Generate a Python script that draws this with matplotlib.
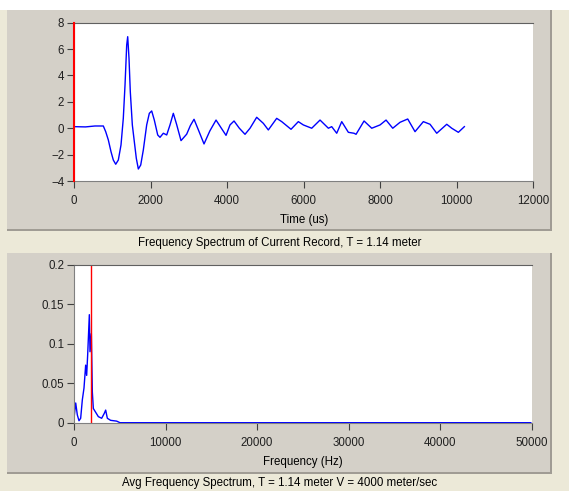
import matplotlib
matplotlib.use("Agg")
import matplotlib.pyplot as plt
from matplotlib.patches import Rectangle

plt.rcParams['font.family'] = ['Liberation Sans', 'DejaVu Sans']
plt.rcParams['font.size'] = 8.3

# Registro de tiempo (us) y amplitud
time_us = [0, 300, 549, 766, 828, 897, 967, 1027, 1090, 1158,
           1228, 1288, 1333, 1377, 1403, 1437, 1471, 1524, 1576, 1628,
           1681, 1743, 1811, 1899, 1968, 2030, 2098, 2187, 2247, 2334,
           2422, 2508, 2595, 2680, 2796, 2944, 3040, 3136, 3260, 3397,
           3550, 3711, 3850, 3972, 4076, 4181, 4320, 4468, 4599, 4773,
           4947, 5077, 5296, 5427, 5670, 5861, 5992, 6211, 6428, 6646,
           6733, 6864, 6995, 7168, 7316, 7369, 7578, 7779, 7996, 8153,
           8328, 8518, 8719, 8910, 9127, 9302, 9477, 9739, 9869, 10042,
           10199]
amplitude = [0.12, 0.1, 0.17, 0.17, -0.26, -0.89, -1.78, -2.41, -2.73, -2.41,
             -1.27, 0.75, 3.28, 6.31, 6.94, 5.30, 2.77, 0.25, -1.02, -2.28,
             -3.09, -2.79, -1.65, 0.25, 1.13, 1.31, 0.62, -0.51, -0.69, -0.38,
             -0.51, 0.25, 1.13, 0.3, -0.94, -0.45, 0.2, 0.68, -0.2, -1.19,
             -0.2, 0.62, 0.0, -0.54, 0.25, 0.55, 0.0, -0.46, 0.0, 0.83,
             0.37, -0.13, 0.75, 0.5, -0.08, 0.5, 0.25, 0.0, 0.62, 0.0,
             0.12, -0.38, 0.5, -0.31, -0.38, -0.46, 0.55, 0.0, 0.25, 0.62,
             0.0, 0.45, 0.70, -0.26, 0.5, 0.30, -0.38, 0.30, 0.0, -0.31,
             0.12]

# Espectro de frecuencia
freq_hz = [0, 186, 364, 546, 728, 910, 1092, 1274, 1383, 1493,
           1675, 1748, 1894, 2003, 2112, 2658, 3022, 3314, 3459, 3642,
           4000, 4660, 5025, 49900]
spectrum = [0.0056, 0.025, 0.0098, 0.0025, 0.0056, 0.029, 0.044, 0.073, 0.060, 0.086,
            0.137, 0.090, 0.113, 0.039, 0.018, 0.0077, 0.0056, 0.012, 0.016, 0.0056,
            0.003, 0.002, 0.0, 0.0]

marker_time = 0
marker_freq = 1820

W, H = 569, 491
fig = plt.figure(figsize=(W / 100, H / 100), dpi=100, facecolor='#ECE9D8')

def px_rect(x0, y0, x1, y1, color):
    fig.patches.append(Rectangle((x0 / W, 1 - y1 / H), (x1 - x0) / W, (y1 - y0) / H,
                                 transform=fig.transFigure, facecolor=color,
                                 edgecolor='none', zorder=-5))

# fondo tipo ventana
px_rect(0, 0, W, 10, 'white')
for top, bot in [(10, 231), (252.7, 474)]:
    px_rect(7, top, 552, bot, '#A09C94')
    px_rect(7, top, 550, bot - 2, '#D4D0C8')

ax1 = fig.add_axes([74 / W, 1 - 181 / H, (533.3 - 74) / W, (181 - 22.7) / H])
ax2 = fig.add_axes([74 / W, 1 - 422.7 / H, (531.7 - 74) / W, (422.7 - 265) / H])

ax1.plot(time_us, amplitude, color='#0000FF', lw=1.0)
ax1.axvline(marker_time, color='#FF0000', lw=1.5, clip_on=False, zorder=5)
ax1.set_xlim(0, 12000)
ax1.set_ylim(-4, 8)
ax1.set_xticks(range(0, 12001, 2000))
ax1.set_yticks(range(-4, 9, 2))
ax1.set_xlabel('Time (us)', labelpad=5)

ax2.plot(freq_hz, spectrum, color='#0000FF', lw=1.0)
ax2.axvline(marker_freq, color='#FF0000', lw=1.0)
ax2.set_xlim(0, 50000)
ax2.set_ylim(0, 0.2)
ax2.set_xticks(range(0, 50001, 10000))
ax2.set_yticks([0, 0.05, 0.1, 0.15, 0.2])
ax2.set_yticklabels(['0', '0.05', '0.1', '0.15', '0.2'])
ax2.set_xlabel('Frequency (Hz)', labelpad=5)

for ax in (ax1, ax2):
    ax.set_facecolor('white')
    ax.spines['right'].set_visible(False)
    ax.spines['top'].set_color('#606060')
    ax.spines['left'].set_color('#808080')
    ax.spines['bottom'].set_color('#808080')
    for s in ax.spines.values():
        s.set_linewidth(0.8)
    ax.tick_params(direction='out', length=5, width=0.8, color='#404040',
                   labelsize=8.3, labelcolor='#202020')
    ax.tick_params(axis='x', pad=5)
    ax.tick_params(axis='y', pad=2)

fig.text(279.5 / W, 1 - 242.7 / H, 'Frequency Spectrum of Current Record, T = 1.14 meter',
         ha='center', va='center', fontsize=8.3)
fig.text(279.5 / W, 1 - 483 / H, 'Avg Frequency Spectrum, T = 1.14 meter V = 4000 meter/sec',
         ha='center', va='center', fontsize=8.3)

fig.savefig('out.png', dpi=100, facecolor=fig.get_facecolor())
